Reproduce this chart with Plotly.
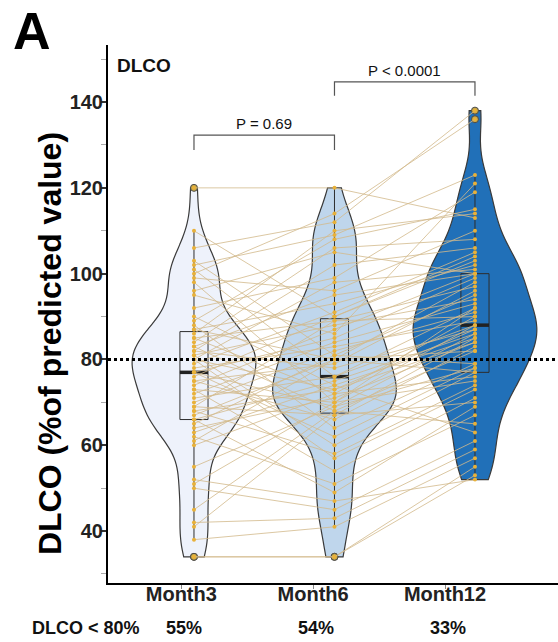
import numpy as np
import plotly.graph_objects as go

# ---------------- data ----------------
categories = ["Month3", "Month6", "Month12"]

# one entry per subject, same subject order in every list
month3 = [120, 110, 106, 103, 102, 101, 100, 99, 98, 96, 95, 92, 90, 89, 88, 87, 87,
          86, 85, 85, 84, 83, 83, 82, 82, 81, 81, 80, 80, 80, 79, 78, 77, 77, 77, 76,
          75, 75, 74, 73, 73, 72, 71, 70, 69, 69, 68, 68, 67, 66, 66, 65, 64, 63, 62,
          61, 60, 55, 52, 51, 50, 45, 42, 41, 38, 34, 34]
month6 = [120, 90, 112, 81, 109, 76, 114, 96, 70, 105, 86, 99, 74, 108, 64, 93, 80,
          110, 72, 89, 106, 68, 95, 78, 102, 60, 88, 73, 98, 57, 91, 83, 69, 85, 62, 90,
          79, 66, 87, 70, 54, 84, 76, 82, 67, 89, 73, 58, 80, 75, 49, 81, 71, 74, 51,
          80, 72, 69, 47, 70, 45, 68, 43, 67, 41, 34, 34]
month12 = [113, 104, 138, 95, 123, 92, 136, 110, 88, 100, 121, 119, 85, 115, 79, 102, 98,
           114, 90, 97, 108, 82, 100, 87, 106, 77, 94, 84, 101, 73, 105, 89, 86, 99, 78,
           103, 96, 83, 100, 92, 71, 93, 88, 91, 85, 90, 87, 74, 82, 86, 69, 79, 84, 63,
           67, 77, 76, 78, 52, 75, 61, 65, 59, 70, 57, 55, 53]

THRESHOLD = 80
p_labels = ["P = 0.69", "P < 0.0001"]
y_ticks = [40, 60, 80, 100, 120, 140]

# ---------------- styles ----------------
FONT = "Liberation Sans, Arial, Helvetica, sans-serif"
violin_fill = ["#eef2fb", "#bfd6ec", "#2170b8"]
outline = "#3a3a3a"
point_col = "#e8b13a"
line_col = "rgba(210,186,140,0.9)"
BW_ADJUST = 0.85

series = [month3, month6, month12]
pos = list(range(len(categories)))

fig = go.Figure()

# violins
for i, vals in zip(pos, series):
    v = np.asarray(vals, float)
    q1, q3 = np.percentile(v, [25, 75])
    bw = BW_ADJUST * 0.9 * min(v.std(ddof=1), (q3 - q1) / 1.34) * len(v) ** -0.2
    fig.add_trace(go.Violin(
        y=vals, x0=i, width=0.88, scalemode="width", spanmode="hard",
        bandwidth=bw, side="both", points=False,
        fillcolor=violin_fill[i], line=dict(color=outline, width=1.2),
        opacity=1, hoverinfo="skip", showlegend=False,
        box=dict(visible=False), meanline=dict(visible=False)))

# boxes (with outliers)
for i, vals in zip(pos, series):
    fig.add_trace(go.Box(
        y=vals, x0=i, width=0.2, boxpoints="outliers", quartilemethod="inclusive",
        whiskerwidth=0, fillcolor="rgba(0,0,0,0)",
        line=dict(color="#2e2e2e", width=1),
        marker=dict(size=7, color="#c7a847", line=dict(color="#4a4a4a", width=1)),
        hoverinfo="skip", showlegend=False))

# medians (thick)
mx, my = [], []
for i, vals in zip(pos, series):
    m = float(np.median(vals))
    mx += [i - 0.1, i + 0.1, None]
    my += [m, m, None]
fig.add_trace(go.Scatter(x=mx, y=my, mode="lines",
                         line=dict(color="#222222", width=3.5),
                         hoverinfo="skip", showlegend=False))

# paired lines per subject
lx, ly = [], []
for a, b, c in zip(month3, month6, month12):
    lx += pos + [None]
    ly += [a, b, c, None]
fig.add_trace(go.Scatter(x=lx, y=ly, mode="lines",
                         line=dict(color=line_col, width=0.9),
                         hoverinfo="skip", showlegend=False))

# points
for i, vals in zip(pos, series):
    fig.add_trace(go.Scatter(x=[i] * len(vals), y=vals, mode="markers",
                             marker=dict(size=4, color=point_col),
                             hoverinfo="skip", showlegend=False))

# hidden trace so the category axis (x2) exists
fig.add_trace(go.Scatter(x=pos, y=[THRESHOLD] * len(pos), xaxis="x2", mode="markers",
                         marker=dict(opacity=0), hoverinfo="skip", showlegend=False))

# threshold dotted line
fig.add_shape(type="line", xref="paper", x0=0, x1=1, yref="y",
              y0=THRESHOLD, y1=THRESHOLD, line=dict(color="black", width=3, dash="dot"))

# significance brackets
brackets = [(0, 1, 132.3, 3.5), (1, 2, 144.7, 3.2)]
for (a, b, top, leg), lab in zip(brackets, p_labels):
    fig.add_shape(type="path", xref="x", yref="y",
                  path=f"M {a},{top - leg} L {a},{top} L {b},{top} L {b},{top - leg}",
                  line=dict(color="#555555", width=1.2))
    fig.add_annotation(x=(a + b) / 2, y=top, xref="x", yref="y", text=lab,
                       showarrow=False, yanchor="bottom", yshift=1,
                       font=dict(family=FONT, size=15, color="#111111"))

# texts
fig.add_annotation(text="<b>A</b>", xref="paper", yref="paper", x=-0.215, y=1.0836,
                   xanchor="left", yanchor="top", showarrow=False,
                   font=dict(family=FONT, size=52, color="black"))
fig.add_annotation(text="<b>DLCO</b>", xref="paper", yref="paper", x=0.016, y=0.961,
                   xanchor="left", yanchor="middle", showarrow=False,
                   font=dict(family=FONT, size=19, color="#111111"))
fig.add_annotation(text="<b>DLCO (%of predicted value)</b>", xref="paper", yref="paper",
                   x=-0.13, y=0.445, textangle=-90, xanchor="center", yanchor="middle",
                   showarrow=False, font=dict(family=FONT, size=32, color="black"))
fig.add_annotation(text=f"<b>DLCO &lt; {THRESHOLD}%</b>", xref="paper", yref="paper",
                   x=-0.048, y=-0.084, xanchor="center", yanchor="middle",
                   showarrow=False, font=dict(family=FONT, size=18, color="#111111"))
for i, vals in zip(pos, series):
    pct = round(100 * np.mean(np.asarray(vals) < THRESHOLD))
    fig.add_annotation(text=f"<b>{pct}%</b>", xref="x2", yref="paper", x=i, y=-0.084,
                       xanchor="center", yanchor="middle", showarrow=False, xshift=3,
                       font=dict(family=FONT, size=18, color="#111111"))

fig.update_layout(
    width=558, height=642,
    margin=dict(l=108, r=0, t=45, b=59),
    paper_bgcolor="white", plot_bgcolor="white",
    violinmode="overlay", boxmode="overlay",
    showlegend=False,
    xaxis=dict(type="linear", range=[-0.612, 2.591], visible=False, fixedrange=True),
    xaxis2=dict(type="linear", overlaying="x", anchor="y", side="bottom",
                range=[-0.556, 2.857], tickmode="array", tickvals=pos, ticktext=categories,
                showline=True, linecolor="black", linewidth=2, ticks="outside",
                ticklen=4, tickcolor="#888888", tickwidth=1, showgrid=False,
                zeroline=False, ticklabelstandoff=-12,
                tickfont=dict(family=FONT, size=20, color="#222222", weight="bold")),
    yaxis=dict(range=[27.9, 153.3], tickmode="array", tickvals=y_ticks,
               showline=True, linecolor="black", linewidth=2, ticks="outside",
               ticklen=5, tickcolor="#333333", tickwidth=1.5, showgrid=False,
               zeroline=False, ticklabelstandoff=-6,
               minor=dict(dtick=10, tick0=0, ticks="outside", ticklen=5,
                          tickcolor="#aaaaaa", tickwidth=1),
               tickfont=dict(family=FONT, size=20, color="#222222", weight="bold")),
)

fig.write_html("out.html",
               config={"displayModeBar": False},
               post_script="document.body.style.margin='0';"
                           "document.body.style.overflow='hidden';")
